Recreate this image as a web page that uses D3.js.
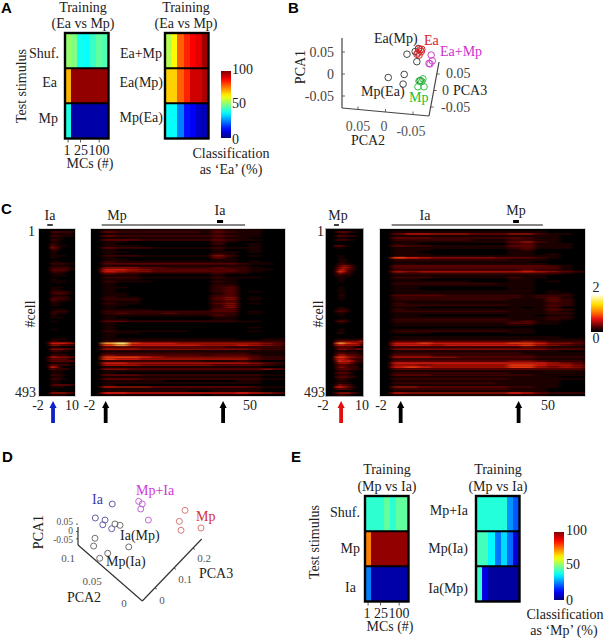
<!DOCTYPE html>
<html><head><meta charset="utf-8">
<style>html,body{margin:0;padding:0;background:#fff}svg{display:block}text{font-family:"Liberation Serif",serif;fill:#222}</style>
<script src="https://cdn.jsdelivr.net/npm/d3@7"></script></head><body>
<svg id="c" width="604" height="639"></svg>
<script>
// ---------- data ----------
const mcTicks = ["1","25","100"];
const mcTickColumn = [0,2,5];
const columns = [0,1,2,3,4,5,6];
const stimA1 = ["Shuf.","Ea","Mp"];
const stimA2 = ["Ea+Mp","Ea(Mp)","Mp(Ea)"];
const stimE1 = ["Shuf.","Mp","Ia"];
const stimE2 = ["Mp+Ia","Mp(Ia)","Ia(Mp)"];
const classA1 = [[52,50,39,38,43,47,45],[70,98,98,98,98,98,98],[40,4,4,4,4,4,4]];
const classA2 = [[55,63,78,84,88,90,97],[67,67,78,84,92,92,96],[38,38,25,14,12,7,5]];
const classE1 = [[42,42,42,47,42,47,47],[75,98,98,98,98,98,98],[25,4,4,4,4,4,4]];
const classE2 = [[41,41,41,41,41,27,21],[44,44,37,24,34,23,9],[43,10,3,3,3,3,3]];

const rasterC1 = ["000000000000","000023222221","000011111110","000022211111","000011110000","000022100000","000011100000","000021100000","000032111000","000043200000","000022100000","000011000000","000011000000","000011111000","000011000000","000000000000","000011100000","000022222111","000011111100","000122222211","000033333211","000023222100","000011110000","000011111000","000000000000","000011000000","000011111000","000000100000","000000000000","000011110000","000011100000","000022222110","000023332210","000011111000","000022322200","000033222110","000022111000","000011100000","000011100000","000000000000","000011111000","000012222100","000022111000","000011000000","000011110000","000000000000","000011000000","000000000000","000000000000","000000000000","000011000000","000000000000","000000000000","000000000000","000000000000","000011111000","000122111100","000366666554","000244433322","000011100000","000144443331","000022211100","000011110000","000022222100","000355444433","000233333211","000233333333","000011111100","000233222211","000265210000","000132222200","000011110000","000011110000","000022211000","000011110000","000022211000","000011100000","000011100000","000023333322","000011110000","000000000000","000011000000","000044444332","000011111000"];
const rasterC2 = ["0111111111211100","0322222221321100","0111111111211100","0322222222321100","0111111111211000","0333222222321100","0110000000210000","0100000000200100","0111000000100100","0322211111211100","0100000000100100","0110000000110100","0100000000210000","0222111111420100","0100000000310000","0110000000110000","0211111111110100","0333333333332110","0111111111111000","0444332222322100","0665433333332110","0654433333332100","0322111111211000","0111000000100000","0222111111211100","0111000000110000","0211100000210000","0100000000110000","0100000000220000","0110000000230000","0100000000230000","0100000000230100","0110000000130000","0110000000230000","0211000000340100","0222000000340100","0111000000230000","0211000000340100","0110000000240000","0100000000240000","0111100000330000","0222222222330100","0232223222220100","0111111111320000","0100000000110000","0110000000110000","0332222222221100","0100000000000000","0100000000000000","0100000000000100","0100000000000000","0211111100000100","0111000000000000","0100000000000000","0100000000000000","0111111111110011","0222222222222222","0897666555555543","0786666665556543","0333333333322222","0555444444444322","0111111111111111","0222222222222111","0433333332333211","0777654444444322","0766555555555322","0222222221112100","0665555555555432","0555444444333321","0111111111111100","0443333333333343","0111111111111100","0100000000000000","0333222222222211","0111111111111100","0333222222222211","0111110000001100","0111111111111100","0100000000000000","0544433333333211","0111111111111100","0111111100111100","0665555555556543","0111111110111000"];
const rasterC3 = ["000000000000","000233321100","000011100000","000232222100","000011100000","000222211000","000000000000","000000000000","000332100000","000111000000","000000000000","000000000000","000000000000","000011000000","000011000000","000011100000","000011100000","000022110000","000134432100","000245542100","000256432100","000376421000","000243221000","000121110000","000111100000","000011000000","000011000000","000000000000","000000000000","000011000000","000011000000","000011000000","000011000000","000012000000","000011000000","000011000000","000000000000","000000000000","000000000000","000011000000","000122210000","000233210000","000111000000","000011000000","000000000000","000011100000","000233210000","000011000000","000000000000","000000000000","000011000000","000011000000","000021000000","000000000000","000000000000","000111111111","000344444446","000788776654","000566555553","000233332100","000244433343","000111111100","000233222211","000355433322","000677654433","000566543222","000476665322","000355543211","000233322100","000244322210","000233332211","000122211000","000233321000","000122211000","000233322100","000122110000","000011100000","000121110000","000243321000","000565432100","000233221000","000000000000","000344443210","000122110000"];
const rasterC4 = ["0000000000000000","0111111111111000","0355444333442110","0111111111111100","0333222222321100","0222222111221100","0111111111342100","0110000000231110","0322111111331110","0111111111231110","0111000000120000","0110000000110000","0111000000110100","0111111111111100","0765444443332100","0222222222111000","0111111111110000","0111111111111000","0333333333333210","0333333333333310","0222222222232210","0545555555565432","0222222222222210","0111111111111000","0222111111211000","0110000000110000","0111111000110100","0222222221110000","0111111111110000","0110000000110000","0110000000110000","0111111111110100","0111111111110110","0333322222212220","0222222222212310","0222222222111320","0111111111111320","0211111111111220","0222222222111320","0110000000101200","0211111111111320","0222222222111210","0111111111111220","0110000000110110","0111111111111220","0222222222111210","0222222222231100","0111111111331100","0111111111110000","0000000000000000","0111111111110000","0222222222110000","0111000000110000","0000000000000000","0111111111111100","0111111111111111","0333333333343222","0667666666776443","0666566666675432","0222222222232111","0444444444444333","0111111111111100","0222222222211111","0333222222221111","0555443333332222","0222222222221111","0333333333443222","0666666666666543","0554555555776554","0676555555775454","0333333333333333","0111111111111111","0222222222111111","0333222222221111","0111111111111100","0222222222111111","0111111111111100","0222222221111100","0111111111111100","0443333333221100","0222222222111000","0111111111111000","0544444444653222","0111111111111000"];

// PCA scatter values [PCA2, PCA1]
const pcaBMixA = [[-.039,.045],[-.054,.051],[-.057,.028],[-.060,.057],[-.005,-.008],[-.034,-.001],[-.032,-.023],[-.063,-.015]];
const pcaBEa = [[-.060,.058],[-.063,.055],[-.059,.048],[-.065,.051],[-.057,.045],[-.061,.043],[-.066,.056]];
const pcaBEaMp = [[-.083,.043],[-.085,.030],[-.081,.023],[-.079,.024]];
const pcaBMp = [[-.068,-.011],[-.061,-.016],[-.066,-.017],[-.059,-.029],[-.070,-.029]];
// [PCA3, PCA1]
const pcaDIa = [[-.225,.187],[-.314,.092],[-.263,.078],[-.275,.046],[-.228,.019]];
const pcaDMix = [[-.211,.051],[-.184,.042],[-.316,-.046],[-.323,-.099],[-.138,-.105],[-.249,-.148],[-.291,-.182]];
const pcaDMpIa = [[-.086,.205],[-.067,.187],[-.075,.153],[-.035,.078]];
const pcaDMp = [[.158,.144],[.128,.069],[.137,.008],[.242,.024]];

// ---------- helpers ----------
const svg = d3.select("#c");
const defs = svg.append("defs");
const jet = d3.scaleLinear().domain([0,12.5,37.5,62.5,87.5,100]).range(["#00007f","#0000ff","#00ffff","#ffff00","#ff0000","#7f0000"]).clamp(true);
const hot = d3.scaleLinear().domain([0,1,2,3,4,5,6,7,8,9])
  .range(["#040000","#1c0100","#380302","#580504","#7a0806","#a00c06","#c8180a","#e03410","#f09030","#fbdc70"]).clamp(true);
const hotBar = d3.scaleLinear().domain([0,.08,.35,.55,.75,1]).range(["#000000","#200000","#e81010","#ff8000","#ffe000","#ffffe0"]);

function txt(x,y,s,o={}){
  const t=svg.append("text").attr("x",x).attr("y",y).text(s)
    .attr("font-size",o.size||14).attr("text-anchor",o.a||"start");
  t.style("fill",o.fill||"#222");
  if(o.rot){t.attr("transform",`rotate(-90 ${x} ${y})`).attr("text-anchor","middle");}
  if(o.bold){t.style("font-family","'Liberation Sans',sans-serif").style("font-weight","bold").style("fill","#000");}
  return t;
}
function line(x1,y1,x2,y2,c="#222",w=1){svg.append("line").attr("x1",x1).attr("y1",y1).attr("x2",x2).attr("y2",y2).attr("stroke",c).attr("stroke-width",w);}

function classHeat(x0,x1,y0,y1,rows,vals,tickLabels){
  const xs=d3.scaleBand().domain(columns).range([x0,x1]);
  const ys=d3.scaleBand().domain(rows).range([y0,y1]);
  const g=svg.append("g").attr("shape-rendering","crispEdges");
  rows.forEach((r,i)=>{
    g.selectAll(null).data(vals[i]).join("rect")
      .attr("x",(d,j)=>xs(j)).attr("y",ys(r)).attr("width",xs.bandwidth()+.5).attr("height",ys.bandwidth()+.5)
      .attr("fill",d=>jet(d));
  });
  rows.slice(1).forEach(r=>line(x0,ys(r),x1,ys(r),"#000",2));
  svg.append("rect").attr("x",x0).attr("y",y0).attr("width",x1-x0).attr("height",y1-y0).attr("fill","none").attr("stroke","#000").attr("stroke-width",2.4);
  if(tickLabels){
    mcTickColumn.forEach(c=>{const x=xs(c)+xs.bandwidth()/2; line(x,y1+1,x,y1+4,"#333",.8);});
  }
  return {xs,ys};
}
function colorbar(id,x,y0,y1,w,scale,dom){
  const grad=defs.append("linearGradient").attr("id",id).attr("x1",0).attr("x2",0).attr("y1",1).attr("y2",0);
  d3.range(0,1.001,.05).forEach(t=>grad.append("stop").attr("offset",t).attr("stop-color",scale(dom*t)));
  svg.append("rect").attr("x",x).attr("y",y0).attr("width",w).attr("height",y1-y0).attr("fill",`url(#${id})`);
}
const blur=defs.append("filter").attr("id","blur").attr("x","-10%").attr("width","120%").attr("y","-2%").attr("height","104%");
blur.append("feGaussianBlur").attr("stdDeviation","2.6 0.3");
const blurS=defs.append("filter").attr("id","blurS").attr("x","-10%").attr("width","120%").attr("y","-2%").attr("height","104%");
blurS.append("feGaussianBlur").attr("stdDeviation","1.4 0.3");

function raster(id,x0,x1,y0,y1,rows,f,border){
  const nr=rows.length,nc=rows[0].length;
  const xs=d3.scaleBand().domain(d3.range(nc)).range([x0,x1]);
  const ys=d3.scaleBand().domain(d3.range(nr)).range([y0,y1]);
  defs.append("clipPath").attr("id",id).append("rect").attr("x",x0).attr("y",y0).attr("width",x1-x0).attr("height",y1-y0);
  const outer=svg.append("g").attr("clip-path",`url(#${id})`);
  outer.append("rect").attr("x",x0).attr("y",y0).attr("width",x1-x0).attr("height",y1-y0).attr("fill",hot(0));
  const g=outer.append("g").attr("filter",`url(#${f})`);
  rows.forEach((r,i)=>{
    g.selectAll(null).data(r.split("").map(Number)).join("rect")
      .attr("x",(d,j)=>xs(j)).attr("y",ys(i)).attr("width",xs.bandwidth()+.3).attr("height",ys.bandwidth()+.1)
      .attr("fill",d=>hot(d));
  });
  svg.append("rect").attr("x",x0-.5).attr("y",y0-.5).attr("width",x1-x0+1).attr("height",y1-y0+1).attr("fill","none").attr("stroke",border).attr("stroke-width",1);
}
function arrow(x,top,c){
  svg.append("path").attr("fill",c)
    .attr("d",`M${x},${top}L${x+3.6},${top+7}L${x+1.9},${top+7}L${x+1.9},${top+22}L${x-1.9},${top+22}L${x-1.9},${top+7}L${x-3.6},${top+7}Z`);
}
function scatter(data,xs,ys,c,r,w){
  svg.append("g").selectAll("circle").data(data).join("circle")
   .attr("cx",d=>xs(d[0])).attr("cy",d=>ys(d[1])).attr("r",r).attr("fill","none").attr("stroke",c).attr("stroke-width",w);
}

// ---------- panel letters ----------
[["A",1,13],["B",288,13],["C",1,214],["D",2,462],["E",291,462]].forEach(d=>txt(d[1],d[2],d[0],{bold:true,size:15}));

// ---------- Panel A ----------
txt(83,12,"Training",{a:"middle"});txt(83,28,"(Ea vs Mp)",{a:"middle"});
txt(186,12,"Training",{a:"middle"});txt(186,28,"(Ea vs Mp)",{a:"middle"});
classHeat(65,108.5,33,138.5,stimA1,classA1,true);
classHeat(165,208.5,33,138.5,stimA2,classA2,false);
txt(26,86,"Test stimulus",{rot:true});
[["Shuf.",59,58],["Ea",57,87],["Mp",58,123]].forEach(d=>txt(d[1],d[2],d[0],{a:"end"}));
[["Ea+Mp",162,58],["Ea(Mp)",163,87],["Mp(Ea)",163,122]].forEach(d=>txt(d[1],d[2],d[0],{a:"end"}));
txt(67,155,mcTicks[0],{a:"middle"});txt(81,155,mcTicks[1],{a:"middle"});txt(99,155,mcTicks[2],{a:"middle"});
txt(90,168,"MCs (#)",{a:"middle"});
colorbar("cbA",221,71,138,10,jet,100);
txt(232,74,"100");txt(232,108,"50");txt(232,144,"0");
txt(231,158,"Classification",{a:"middle"});txt(231,174,"as ‘Ea’ (%)",{a:"middle"});

// ---------- Panel B ----------
const bY=d3.scaleLinear().domain([-.05,.05]).range([96,52]);
const bX=d3.scaleLinear().domain([.05,-.05]).range([358,413]);
const bZ=d3.scaleLinear().domain([-.05,.05]).range([107,74]);
line(342,38,342,108,"#444",1.2);line(342,108,429,116,"#444",1.2);line(429,116,439,62,"#444",1.2);
[.05,0,-.05].forEach(v=>{line(342,bY(v),345,bY(v),"#444",.8);});
[.05,0,-.05].forEach(v=>{const x=bX(v),y=108+(x-342)*8/87;line(x,y,x,y-3,"#444",.8);});
[.05,0,-.05].forEach(v=>{const y=bZ(v),x=429+(116-y)*10/54;line(x,y,x+3,y,"#444",.8);});
txt(334,57,"0.05",{a:"end",fill:"#444"});txt(334,79,"0",{a:"end",fill:"#444"});txt(334,101,"-0.05",{a:"end",fill:"#444"});
txt(358,131,"0.05",{a:"middle",fill:"#555"});txt(384,131,"0",{a:"middle",fill:"#555"});txt(411,136,"-0.05",{a:"middle",fill:"#555"});
txt(368,145,"PCA2",{a:"middle"});txt(305,67,"PCA1",{rot:true});
txt(446,78,"0.05",{fill:"#444"});txt(442,95,"0",{fill:"#444"});txt(441,112,"-0.05",{fill:"#444"});
txt(453,95,"PCA3");
scatter(pcaBMixA,bX,bY,"#333",3.3,.9);scatter(pcaBEa,bX,bY,"#d0282c",3.3,1);scatter(pcaBEaMp,bX,bY,"#d040d0",3.3,1);scatter(pcaBMp,bX,bY,"#30c040",3.3,1);
txt(374,43,"Ea(Mp)");txt(424,45,"Ea",{fill:"#d8202a"});txt(440,56,"Ea+Mp",{fill:"#d030d0"});
txt(361,96,"Mp(Ea)");txt(409,102,"Mp",{fill:"#20c030"});

// ---------- Panel C ----------
raster("r1",39,75,229,396,rasterC1,"blurS","#d4d4d4");
raster("r2",91,285,229,396,rasterC2,"blur","#d8d8d8");
raster("r3",326,363,229,396,rasterC3,"blurS","#aaaaaa");
raster("r4",380,585,229,396,rasterC4,"blur","#d8d8d8");
const t1=d3.scaleLinear().domain([-2,10]).range([39,72]);
const t2=d3.scaleLinear().domain([-2,50]).range([91,250]);
const t3=d3.scaleLinear().domain([-2,10]).range([326,363]);
const t4=d3.scaleLinear().domain([-2,50]).range([380,548]);
// stimulus bars and arrows, in seconds on each time axis
line(t1(1),225,t1(3),225,"#111",1.6);txt(t1(2),220,"Ia",{a:"middle"});
line(t2(1.5),225,t2(48.4),225,"#111",1.2);line(t2(39.2),221.5,t2(41.2),221.5,"#000",3);
txt(117,220,"Mp",{a:"middle"});txt(t2(40.2),215,"Ia",{a:"middle"});
line(t3(.6),225,t3(2.2),225,"#111",1.6);txt(338,220,"Mp",{a:"middle"});
line(t4(1.6),225,t4(48.4),225,"#111",1.2);line(t4(39.2),221.5,t4(41),221.5,"#000",3);
txt(425,220,"Ia",{a:"middle"});txt(t4(40.1),215,"Mp",{a:"middle"});
arrow(t1(3.1),401,"#1020c8");arrow(t2(2.8),401,"#000");arrow(t2(41.2),401,"#000");
arrow(t3(2.9),401,"#e01010");arrow(t4(4.4),401,"#000");arrow(t4(40.9),401,"#000");
txt(35,236,"1",{a:"end"});txt(36,397,"493",{a:"end"});txt(35,314,"#cell",{rot:true});
txt(324,236,"1",{a:"end"});txt(325,397,"493",{a:"end"});txt(323,314,"#cell",{rot:true});
txt(38,410,"-2",{a:"middle"});txt(72,410,"10",{a:"middle"});txt(89.5,410,"-2",{a:"middle"});txt(250,410,"50",{a:"middle"});
txt(323,410,"-2",{a:"middle"});txt(362,410,"10",{a:"middle"});txt(381,410,"-2",{a:"middle"});txt(548,410,"50",{a:"middle"});
colorbar("cbC",591,295,332,12,hotBar,1);
txt(596,292,"2",{a:"middle"});txt(596,343,"0",{a:"middle"});

// ---------- Panel D ----------
const dX=d3.scaleLinear().domain([0,.2]).range([155,193]);
const dY=d3.scaleLinear().domain([-.05,.05]).range([538.85,524.15]);
line(78,527,78,545,"#333",1.2);line(78,545,142.3,601,"#333",1.2);line(142.3,601,201.7,539,"#333",1.2);
[.05,0,-.05].forEach(v=>line(78,dY(v),76,dY(v),"#333",.8));
[0,.1,.2].forEach(v=>{const x=dX(v);const y=601-(x-142.3)*62/59.4;line(x,y,x+2,y+1.5,"#333",.8);});
txt(73,525,"0.05",{a:"end",size:9.5,fill:"#555"});txt(73,534,"0",{a:"end",size:9.5,fill:"#555"});txt(73,543,"-0.05",{a:"end",size:9.5,fill:"#555"});
txt(68,562,"0.1",{a:"middle",size:11,fill:"#555"});txt(92,585,"0.05",{a:"middle",size:11,fill:"#555"});txt(124,607,"0",{a:"middle",size:11,fill:"#555"});
txt(162,604,"0",{a:"middle",size:11,fill:"#555"});txt(185,583,"0.1",{a:"middle",size:11,fill:"#555"});txt(204,562,"0.2",{a:"middle",size:11,fill:"#555"});
txt(43,532,"PCA1",{rot:true});txt(84,602,"PCA2",{a:"middle"});txt(199,578,"PCA3");
scatter(pcaDIa,dX,dY,"#6060a8",3,1);scatter(pcaDMix,dX,dY,"#707070",3,1);scatter(pcaDMpIa,dX,dY,"#c468d8",3,1);scatter(pcaDMp,dX,dY,"#d87878",3,1);
txt(92,504,"Ia",{fill:"#3838a8"});txt(136,495,"Mp+Ia",{fill:"#d038d8"});txt(196,521,"Mp",{fill:"#d83030"});
txt(120,540,"Ia(Mp)");txt(106,566,"Mp(Ia)");

// ---------- Panel E ----------
txt(387,474,"Training",{a:"middle"});txt(387,491,"(Mp vs Ia)",{a:"middle"});
txt(498,474,"Training",{a:"middle"});txt(498,491,"(Mp vs Ia)",{a:"middle"});
classHeat(365,408.5,496,601.5,stimE1,classE1,true);
classHeat(476,519.5,496,601.5,stimE2,classE2,false);
txt(319,542,"Test stimulus",{rot:true});
[["Shuf.",360,517],["Mp",360,553],["Ia",356,592]].forEach(d=>txt(d[1],d[2],d[0],{a:"end"}));
[["Mp+Ia",468,515],["Mp(Ia)",468,553],["Ia(Mp)",468,593]].forEach(d=>txt(d[1],d[2],d[0],{a:"end"}));
txt(367,618,mcTicks[0],{a:"middle"});txt(381,618,mcTicks[1],{a:"middle"});txt(399,618,mcTicks[2],{a:"middle"});
txt(390,631,"MCs (#)",{a:"middle"});
colorbar("cbE",554,532,600,10,jet,100);
txt(566,535,"100");txt(566,569,"50");txt(566,605,"0");
txt(565,619,"Classification",{a:"middle"});txt(564,635,"as ‘Mp’ (%)",{a:"middle"});
</script></body></html>
